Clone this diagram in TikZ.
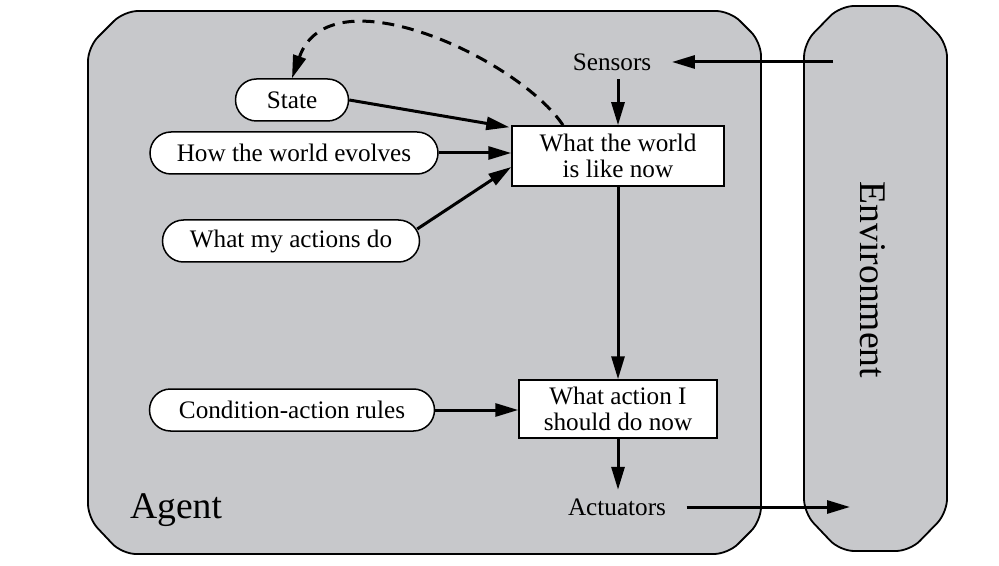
\documentclass[tikz,border=0pt]{standalone}
\usepackage{fontspec}
\setmainfont{Liberation Serif}
\usepackage{xcolor}
\usetikzlibrary{arrows.meta,shapes.misc}
\tikzset{every picture/.style={line width=0.75pt}}
\definecolor{panelgray}{RGB}{199,200,203}
\newcommand{\boxfont}{\fontsize{12.6}{13.2}\selectfont}
\newcommand{\bigfont}{\fontsize{18.8}{20}\selectfont}

\begin{document}
\begin{tikzpicture}[x=0.5pt,y=0.5pt,yscale=-1,xscale=1,
    panel/.style={draw=black, fill=panelgray, line width=0.9pt, rounded corners=7pt},
    pill/.style={draw, fill=white, rounded rectangle, minimum height=21pt, inner sep=0pt, font=\boxfont},
    block/.style={draw, fill=white, rectangle, align=center, inner sep=0pt, font=\boxfont},
    port/.style={inner xsep=10pt, inner ysep=4pt, font=\boxfont},
    flow/.style={line width=1.5pt, -{Triangle[length=11.5pt,width=6.5pt]}},
    memo/.style={flow, dash pattern=on 6pt off 4pt}]
    \useasboundingbox (0,0) rectangle (999,566);
    % agent and environment panels
    \draw [panel] (88,300) -- (88,518) -- (122,554) -- (728,554) -- (761,521) -- (761,42) -- (730,11) -- (124,11) -- (88,47) -- cycle;
    \draw [panel] (804,300) -- (804,513) -- (840,551) -- (910,551) -- (947,513) -- (947,43) -- (910,6) -- (840,6) -- (804,43) -- cycle;
    \draw (176,510) node [font=\bigfont] (agentlbl) {Agent};
    \draw (873,280) node [font=\bigfont, rotate=-90] (envlbl) {Environment};
    \coordinate (envin) at (833,62);
    \coordinate (envout) at (850,507);
    % knowledge pills
    \draw (292,100) node [pill, minimum width=56.5pt] (state) {State};
    \draw (294,153) node [pill, minimum width=144pt] (evolves) {How the world evolves};
    \draw (291,241) node [pill, minimum width=128.5pt] (actions) {What my actions do};
    \draw (292,410) node [pill, minimum width=142.5pt] (rules) {Condition-action rules};
    % main boxes
    \draw (618,156) node [block, minimum width=106pt, minimum height=30pt] (world) {What the world\\is like now};
    \draw (618,409) node [block, minimum width=99pt, minimum height=29pt] (decide) {What action I\\should do now};
    \draw (612,62) node [port] (sensors) {Sensors};
    \draw (617,507) node [port] (actuators) {Actuators};
    % connectors
    \draw [flow] (envin) -- (envin -| sensors.east);
    \draw [flow] (sensors.south -| world.north) -- (world.north);
    \draw [flow] (state.east) -- ([xshift=-1pt,yshift=1pt]world.north west);
    \draw [flow] (evolves.east) -- (evolves.east -| world.west);
    \draw [flow] ([xshift=-1.5pt,yshift=-6pt]actions.east) -- ([yshift=5.5pt]world.west);
    \draw [memo] ([xshift=-27.5pt]world.north) .. controls (520,60) and (330,-30) .. (state.north);
    \draw [flow] (world) -- (decide);
    \draw [flow] (rules.east) -- (rules.east -| decide.west);
    \draw [flow] (decide) -- (decide |- actuators.north);
    \draw [flow] (actuators.east) -- (actuators.east -| envout);
\end{tikzpicture}
\end{document}
